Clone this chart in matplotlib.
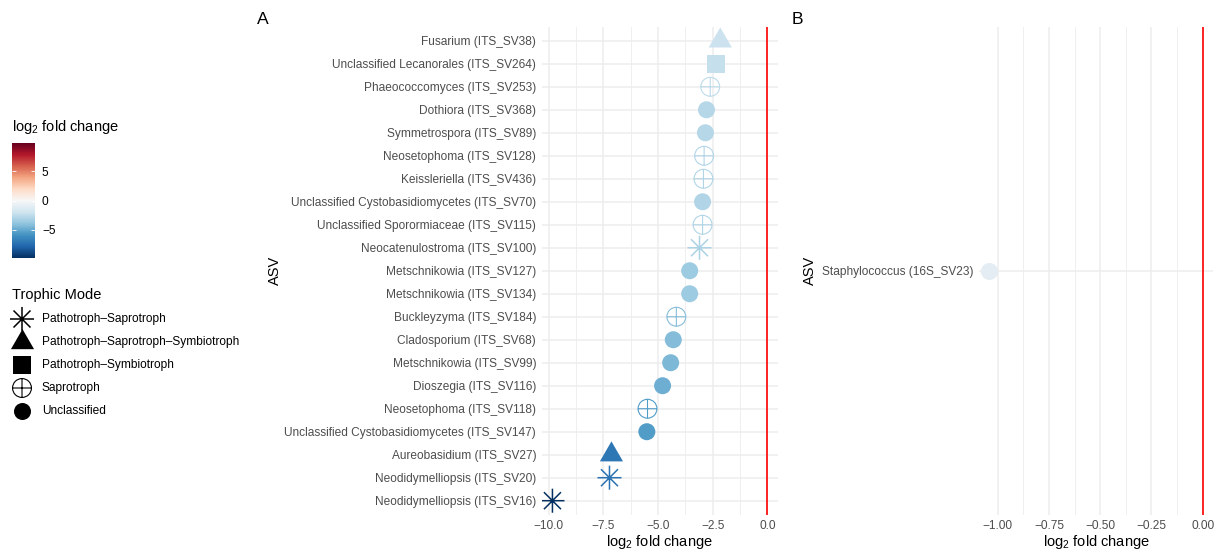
import numpy as np
import matplotlib
matplotlib.use("Agg")
import matplotlib.pyplot as plt
from matplotlib.path import Path
from matplotlib.colors import Normalize
from matplotlib.cm import ScalarMappable
from matplotlib.ticker import FuncFormatter, MultipleLocator

plt.rcParams["font.family"] = ["Liberation Sans", "DejaVu Sans"]
plt.rcParams["mathtext.fontset"] = "custom"
plt.rcParams["mathtext.rm"] = "Liberation Sans"
plt.rcParams["mathtext.it"] = "Liberation Sans:italic"
plt.rcParams["mathtext.bf"] = "Liberation Sans:bold"

# Panel A: fungal ASVs (ITS), ordered top to bottom
asv_its = [
    "Fusarium (ITS_SV38)",
    "Unclassified Lecanorales (ITS_SV264)",
    "Phaeococcomyces (ITS_SV253)",
    "Dothiora (ITS_SV368)",
    "Symmetrospora (ITS_SV89)",
    "Neosetophoma (ITS_SV128)",
    "Keissleriella (ITS_SV436)",
    "Unclassified Cystobasidiomycetes (ITS_SV70)",
    "Unclassified Sporormiaceae (ITS_SV115)",
    "Neocatenulostroma (ITS_SV100)",
    "Metschnikowia (ITS_SV127)",
    "Metschnikowia (ITS_SV134)",
    "Buckleyzyma (ITS_SV184)",
    "Cladosporium (ITS_SV68)",
    "Metschnikowia (ITS_SV99)",
    "Dioszegia (ITS_SV116)",
    "Neosetophoma (ITS_SV118)",
    "Unclassified Cystobasidiomycetes (ITS_SV147)",
    "Aureobasidium (ITS_SV27)",
    "Neodidymelliopsis (ITS_SV20)",
    "Neodidymelliopsis (ITS_SV16)",
]
lfc_its = [-2.15, -2.33, -2.61, -2.78, -2.83, -2.89, -2.92, -2.96, -2.96, -3.10,
           -3.55, -3.55, -4.16, -4.30, -4.42, -4.79, -5.48, -5.51, -7.13, -7.22, -9.83]
mode_its = [
    "Pathotroph-Saprotroph-Symbiotroph",
    "Pathotroph-Symbiotroph",
    "Saprotroph",
    "Unclassified",
    "Unclassified",
    "Saprotroph",
    "Saprotroph",
    "Unclassified",
    "Saprotroph",
    "Pathotroph-Saprotroph",
    "Unclassified",
    "Unclassified",
    "Saprotroph",
    "Unclassified",
    "Unclassified",
    "Unclassified",
    "Saprotroph",
    "Unclassified",
    "Pathotroph-Saprotroph-Symbiotroph",
    "Pathotroph-Saprotroph",
    "Pathotroph-Saprotroph",
]

# Panel B: bacterial ASVs (16S)
asv_16s = ["Staphylococcus (16S_SV23)"]
lfc_16s = [-1.04]
mode_16s = ["Unclassified"]

modes = ["Pathotroph-Saprotroph", "Pathotroph-Saprotroph-Symbiotroph",
         "Pathotroph-Symbiotroph", "Saprotroph", "Unclassified"]


# ggplot-like point shapes
def asterisk_path():
    d = np.sqrt(0.5)
    verts = [(-1, 0), (1, 0), (0, -1), (0, 1), (-d, -d), (d, d), (-d, d), (d, -d)]
    codes = [Path.MOVETO, Path.LINETO] * 4
    return Path(verts, codes)


def circle_plus_path():
    cross = Path([(-1, 0), (1, 0), (0, -1), (0, 1)],
                 [Path.MOVETO, Path.LINETO, Path.MOVETO, Path.LINETO])
    return Path.make_compound_path(Path.unit_circle(), cross)


def triangle_path():
    h = 0.866
    return Path([(0, 2 * h / 3), (-0.5, -h / 3), (0.5, -h / 3), (0, 2 * h / 3)],
                [Path.MOVETO, Path.LINETO, Path.LINETO, Path.CLOSEPOLY])


# marker, size (pt^2), filled, edge width
shape = {
    "Pathotroph-Saprotroph": (asterisk_path(), 300, False, 1.1),
    "Pathotroph-Saprotroph-Symbiotroph": (triangle_path(), 370, True, 0),
    "Pathotroph-Symbiotroph": ("s", 165, True, 0),
    "Saprotroph": (circle_plus_path(), 185, False, 0.8),
    "Unclassified": ("o", 150, True, 0),
}

W, H = 1218, 550
fig = plt.figure(figsize=(W / 100, H / 100), dpi=100)

lim = max(abs(v) for v in lfc_its + lfc_16s)
norm = Normalize(-lim, lim)
cmap = plt.get_cmap("RdBu_r")

grid_col = "#EDEDED"
tick_col = "#4D4D4D"


def minus(fmt):
    return FuncFormatter(lambda v, p: format(v, fmt).replace("-", "\u2212"))


def draw_panel(ax, labels, values, tm, major, fmt):
    n = len(labels)
    y = np.arange(n)[::-1]
    vals = np.array(values)
    for m in modes:
        idx = [i for i, t in enumerate(tm) if t == m]
        if not idx:
            continue
        mk, s, filled, lw = shape[m]
        cols = cmap(norm(vals[idx]))
        if filled:
            ax.scatter(vals[idx], y[idx], marker=mk, s=s, c=cols, linewidths=0, zorder=3)
        else:
            ax.scatter(vals[idx], y[idx], marker=mk, s=s, facecolors="none",
                       edgecolors=cols, linewidths=lw, zorder=3)
    ax.axvline(0, color="#FF0000", lw=1.2, zorder=2)
    lo = min(min(values), 0)
    hi = max(max(values), 0)
    pad = 0.05 * (hi - lo)
    ax.set_xlim(lo - pad, hi + pad)
    ax.set_ylim(-0.6, n - 0.4)
    ax.set_yticks(y)
    ax.set_yticklabels(labels)
    ax.xaxis.set_major_locator(MultipleLocator(major))
    ax.xaxis.set_minor_locator(MultipleLocator(major / 2))
    ax.xaxis.set_major_formatter(minus(fmt))
    ax.grid(which="major", color=grid_col, lw=1.1, zorder=0)
    ax.grid(which="minor", axis="x", color=grid_col, lw=0.6, zorder=0)
    ax.set_axisbelow(True)
    for sp in ax.spines.values():
        sp.set_visible(False)
    ax.tick_params(which="both", length=0, labelsize=8.6, labelcolor=tick_col, pad=4)
    ax.set_xlabel("log$_2$ fold change", fontsize=10.5, labelpad=1)
    ax.set_ylabel("ASV", fontsize=10.5)


ax_a = fig.add_axes([541.7 / W, 1 - 514.5 / H, (778 - 541.7) / W, (514.5 - 27) / H])
draw_panel(ax_a, asv_its, lfc_its, mode_its, 2.5, ".1f")
ax_a.yaxis.set_label_coords(-1.10, 0.5)

ax_b = fig.add_axes([978.8 / W, 1 - 514.5 / H, (1213.4 - 978.8) / W, (514.5 - 27) / H])
draw_panel(ax_b, asv_16s, lfc_16s, mode_16s, 0.25, ".2f")
ax_b.yaxis.set_label_coords(-0.69, 0.5)

fig.text(257 / W, 1 - 20 / H, "A", fontsize=12.6, va="center")
fig.text(792 / W, 1 - 20 / H, "B", fontsize=12.6, va="center")

# colour legend
fig.text(12 / W, 1 - 127 / H, "log$_2$ fold change", fontsize=10.5, va="center")
cax = fig.add_axes([12 / W, 1 - 258 / H, 23 / W, 115 / H])
cb = fig.colorbar(ScalarMappable(norm=norm, cmap=cmap), cax=cax, ticks=[-5, 0, 5])
cb.outline.set_visible(False)
cax.tick_params(direction="in", color="white", length=3, width=0.6,
                left=True, right=True, labelsize=8.6, pad=5)

# shape legend
key = fig.add_axes([0, 1 - 430 / H, 250 / W, 150 / H])
key.set_xlim(0, 250)
key.set_ylim(430, 280)
key.axis("off")
key.text(12, 295, "Trophic Mode", fontsize=10.5, va="center")
for i, m in enumerate(modes):
    ky = 319 + 23 * i
    mk, s, filled, lw = shape[m]
    if filled:
        key.scatter([22], [ky], marker=mk, s=s, c="black", linewidths=0)
    else:
        key.scatter([22], [ky], marker=mk, s=s, facecolors="none",
                    edgecolors="black", linewidths=lw)
    key.text(42, ky, m.replace("-", "\u2013"), fontsize=8.6, va="center")

fig.savefig("out.png", dpi=100, facecolor="white")
